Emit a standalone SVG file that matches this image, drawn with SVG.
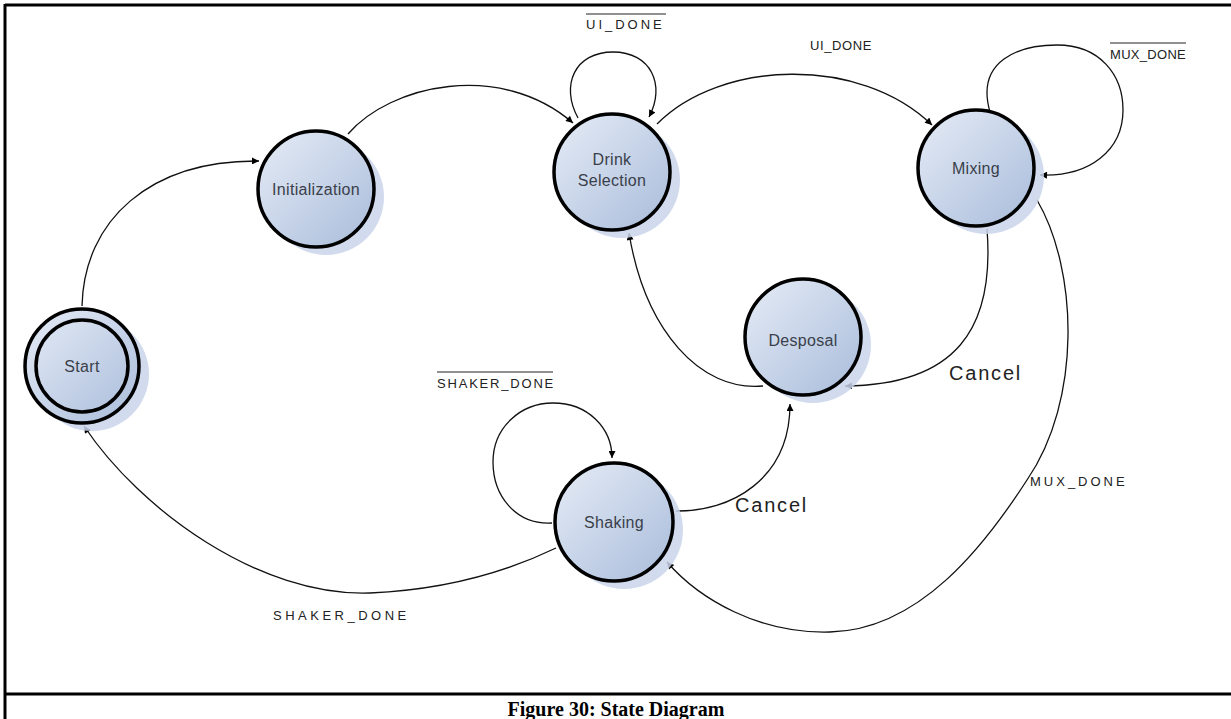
<svg xmlns="http://www.w3.org/2000/svg" width="1231" height="719" viewBox="0 0 1231 719">
<style>
.ring{fill:url(#nodeFill);stroke:#000;stroke-width:3.5}
.inner{fill:none;stroke:#000;stroke-width:3.5}
.shadow{fill:#c9d5ea;opacity:0.85}
.ntext{font-family:"Liberation Sans",Arial,sans-serif;font-size:16px;fill:#3a3f4a;text-anchor:middle;letter-spacing:0.3px}
.edge{fill:none;stroke:#111;stroke-width:1.3}
.lbl{font-family:"Liberation Sans",Arial,sans-serif;font-size:13px;fill:#222}
.cancel{font-family:"Liberation Sans",Arial,sans-serif;font-size:20px;fill:#222;letter-spacing:1.8px}
.ovl{stroke:#222;stroke-width:1.2}
.frame{stroke:#000;stroke-width:3}
</style>
<defs>
<linearGradient id="nodeFill" x1="0" y1="0" x2="1" y2="1">
<stop offset="0" stop-color="#e6ecf6"/>
<stop offset="1" stop-color="#a9bcdb"/>
</linearGradient>
<marker id="arr" viewBox="0 0 10 10" refX="10" refY="5" markerWidth="9" markerHeight="7" markerUnits="userSpaceOnUse" orient="auto">
<path d="M0,0 L10,5 L0,10 z" fill="#000"/>
</marker>
</defs>
<rect width="1231" height="719" fill="#fff"/>
<g id="frame">
<line class="frame" x1="5" y1="5" x2="1231" y2="5" stroke-width="2"/>
<line class="frame" x1="5" y1="4" x2="5" y2="719"/>
<line class="frame" x1="5" y1="694" x2="1231" y2="694"/>
<text x="616" y="716" font-family="Liberation Serif,'Times New Roman',serif" font-size="20" font-weight="bold" text-anchor="middle">Figure 30: State Diagram</text>
</g>
<g id="connectors">
<path class="edge" marker-end="url(#arr)" d="M82,306 C84,220 150,160 259,161"/>
<path class="edge" marker-end="url(#arr)" d="M348,134 C390,85 500,60 573,123"/>
<path class="edge" marker-end="url(#arr)" d="M578,118 C560,85 575,52 613,52 C651,52 666,85 649,117"/>
<path class="edge" marker-end="url(#arr)" d="M657,124 C720,60 860,55 932,125"/>
<path class="edge" marker-end="url(#arr)" d="M990,112 C975,60 1020,45 1057,45 C1100,45 1123,75 1123,110 C1123,150 1090,177 1040,175"/>
<path class="edge" marker-end="url(#arr)" d="M987,229 C995,330 955,385 845,386"/>
<path class="edge" marker-end="url(#arr)" d="M1037,200 C1078,270 1082,400 1027,480 C985,545 920,630 830,632 C760,634 700,600 667,562"/>
<path class="edge" marker-end="url(#arr)" d="M763,386 C700,392 645,330 629,233"/>
<path class="edge" marker-end="url(#arr)" d="M676,511 C730,512 790,480 790,404"/>
<path class="edge" marker-end="url(#arr)" d="M552,523 C515,525 493,495 493,462 C493,428 520,403 553,403 C588,403 612,428 612,458"/>
<path class="edge" marker-end="url(#arr)" d="M556,548 C500,575 440,590 370,593 C260,597 140,510 84,426"/>
<text class="lbl" x="586" y="29" letter-spacing="3">UI_DONE</text>
<line class="ovl" x1="586" y1="14" x2="666" y2="14"/>
<text class="lbl" x="810" y="50" letter-spacing="0.6">UI_DONE</text>
<text class="lbl" x="1110" y="59" letter-spacing="0.3">MUX_DONE</text>
<line class="ovl" x1="1110" y1="43" x2="1186" y2="43"/>
<text class="cancel" x="949" y="380">Cancel</text>
<text class="cancel" x="735" y="512">Cancel</text>
<text class="lbl" x="1030" y="486" letter-spacing="3">MUX_DONE</text>
<text class="lbl" x="437" y="388" letter-spacing="1.8">SHAKER_DONE</text>
<line class="ovl" x1="437" y1="372" x2="553" y2="372"/>
<text class="lbl" x="273" y="620" letter-spacing="3.5">SHAKER_DONE</text>
</g>
<g id="node-start">
<circle class="shadow" cx="92" cy="374" r="57"/>
<circle class="ring" cx="82" cy="366" r="57"/>
<circle class="inner" cx="82" cy="366" r="46"/>
<text class="ntext" x="82" y="372">Start</text>
</g>
<g id="node-initialization">
<circle class="shadow" cx="326" cy="197" r="58"/>
<circle class="ring" cx="316" cy="189" r="58"/>
<text class="ntext" x="316" y="195">Initialization</text>
</g>
<g id="node-drink-selection">
<circle class="shadow" cx="622" cy="180" r="58"/>
<circle class="ring" cx="612" cy="172" r="58"/>
<text class="ntext" x="612" y="165">Drink</text>
<text class="ntext" x="612" y="186">Selection</text>
</g>
<g id="node-mixing">
<circle class="shadow" cx="986" cy="176" r="58"/>
<circle class="ring" cx="976" cy="168" r="58"/>
<text class="ntext" x="976" y="174">Mixing</text>
</g>
<g id="node-desposal">
<circle class="shadow" cx="813" cy="345" r="58"/>
<circle class="ring" cx="803" cy="337" r="58"/>
<text class="ntext" x="803" y="346">Desposal</text>
</g>
<g id="node-shaking">
<circle class="shadow" cx="624" cy="530" r="59"/>
<circle class="ring" cx="614" cy="522" r="59"/>
<text class="ntext" x="614" y="528">Shaking</text>
</g>
</svg>
